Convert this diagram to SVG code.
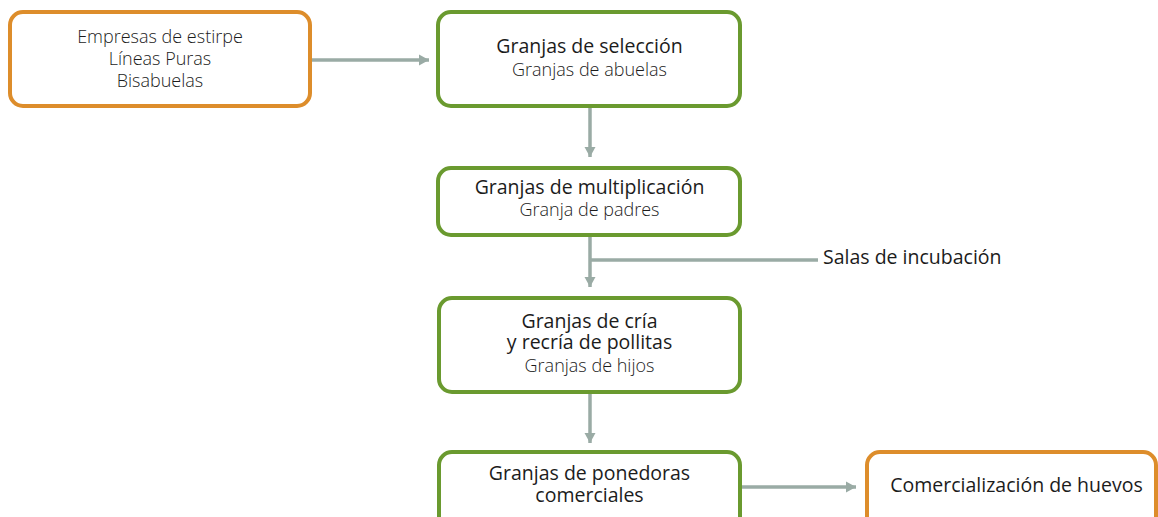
<svg xmlns="http://www.w3.org/2000/svg" width="1158" height="517" viewBox="0 0 1158 517">
<style>
.box{fill:#ffffff;stroke-width:4}
.org{stroke:#dd8d2b}
.grn{stroke:#6a9a2f}
.conn{fill:none;stroke:#9aaba5;stroke-width:3.5}
text{font-family:"Open Sans","Noto Sans","Liberation Sans",sans-serif;text-anchor:middle}
.t{font-size:19.5px;font-weight:400;fill:#1c1c1c}
.s{font-size:18px;font-weight:300;fill:#1c1c1c}
.lbl{text-anchor:start}
</style>
<defs>
<marker id="ah" markerUnits="userSpaceOnUse" markerWidth="10" markerHeight="12" refX="10" refY="6" orient="auto">
<path d="M0,0.5 L10,6 L0,11.5 z" fill="#9aaba5"/>
</marker>
</defs>
<rect width="1158" height="517" fill="#ffffff"/>
<g id="connectors">
<line class="conn" x1="312" y1="60" x2="429" y2="60" marker-end="url(#ah)"/>
<line class="conn" x1="590" y1="108" x2="590" y2="157" marker-end="url(#ah)"/>
<line class="conn" x1="590" y1="237" x2="590" y2="287" marker-end="url(#ah)"/>
<line class="conn" x1="590" y1="260" x2="818" y2="260"/>
<line class="conn" x1="590" y1="394" x2="590" y2="443" marker-end="url(#ah)"/>
<line class="conn" x1="742" y1="487" x2="856" y2="487" marker-end="url(#ah)"/>
</g>
<g id="n1">
<rect class="box org" x="10" y="12" width="300" height="94" rx="13"/>
<text class="s" x="160" y="43">Empresas de estirpe</text>
<text class="s" x="160" y="65">Líneas Puras</text>
<text class="s" x="160" y="87">Bisabuelas</text>
</g>
<g id="n2">
<rect class="box grn" x="438" y="12" width="302" height="94" rx="13"/>
<text class="t" x="589.5" y="53">Granjas de selección</text>
<text class="s" x="589.5" y="76">Granjas de abuelas</text>
</g>
<g id="n3">
<rect class="box grn" x="438" y="168" width="302" height="67" rx="13"/>
<text class="t" x="589.5" y="194">Granjas de multiplicación</text>
<text class="s" x="589.5" y="216">Granja de padres</text>
</g>
<g id="n4">
<rect class="box grn" x="439" y="298" width="301" height="94" rx="13"/>
<text class="t" x="589.5" y="328">Granjas de cría</text>
<text class="t" x="589.5" y="349">y recría de pollitas</text>
<text class="s" x="589.5" y="372">Granjas de hijos</text>
</g>
<g id="n5">
<rect class="box grn" x="439" y="452" width="301" height="80" rx="13"/>
<text class="t" x="589.5" y="480">Granjas de ponedoras</text>
<text class="t" x="589.5" y="502">comerciales</text>
</g>
<g id="n6">
<rect class="box org" x="867" y="452" width="289" height="80" rx="13"/>
<text class="t" x="1016.5" y="492">Comercialización de huevos</text>
</g>
<g id="n7">
<text class="t lbl" x="823" y="264">Salas de incubación</text>
</g>
</svg>
